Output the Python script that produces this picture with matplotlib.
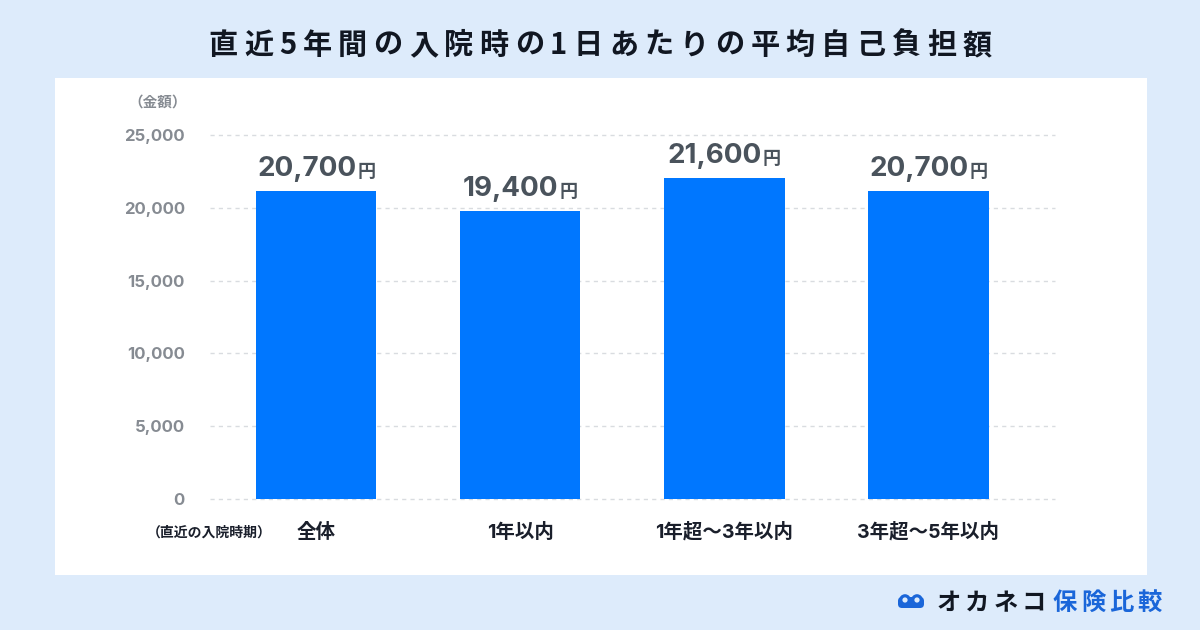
import matplotlib
matplotlib.use("Agg")
import matplotlib.pyplot as plt
from matplotlib.patches import FancyBboxPatch, Circle

plt.rcParams['font.family'] = ['Noto Sans CJK JP', 'DejaVu Sans']
MIX = ['Inter', 'Noto Sans CJK JP', 'DejaVu Sans']

title = "直近5年間の入院時の1日あたりの平均自己負担額"
categories = ["全体", "1年以内", "1年超〜3年以内", "3年超〜5年以内"]
bar_heights = [21150, 19750, 22050, 21150]
value_labels = ["20,700", "19,400", "21,600", "20,700"]
yticks = [0, 5000, 10000, 15000, 20000, 25000]
ytick_labels = ["0", "5,000", "10,000", "15,000", "20,000", "25,000"]

BG = "#DDEBFB"
BAR = "#0077FF"
W, H = 1200, 630

fig = plt.figure(figsize=(12, 6.3), dpi=100, facecolor=BG)

bax = fig.add_axes([0, 0, 1, 1], facecolor="none", zorder=0)
bax.set_xlim(0, W)
bax.set_ylim(H, 0)
bax.axis("off")
bax.add_patch(plt.Rectangle((55, 78), 1147 - 55, 575 - 78, facecolor="white", edgecolor="none"))

fig.canvas.draw()
r = fig.canvas.get_renderer()


def tracked(axh, text, x0, y, track, center=False, **kw):
    objs = []
    widths = []
    for ch in text:
        t = axh.text(0, y, ch, ha="left", va="center", **kw)
        objs.append(t)
        widths.append(t.get_window_extent(r).width)
    total = sum(widths) + track * (len(text) - 1)
    x = x0 - total / 2 if center else x0
    for t, w in zip(objs, widths):
        t.set_x(x)
        x += w + track
    return x


tracked(bax, title, 600, 45, 6.2, center=True, fontsize=21, fontweight="bold", color="#111722")

ax = fig.add_axes([210 / W, 1 - 499 / H, (1055 - 210) / W, (499 - 135) / H], zorder=2)
ax.set_facecolor("none")
x = list(range(len(categories)))
ax.bar(x, bar_heights, width=0.59, color=BAR, zorder=3)
ax.set_xlim(-0.52, 3.62)
ax.set_ylim(0, 25000)
ax.set_yticks(yticks)
ax.set_yticklabels(ytick_labels, fontsize=12, fontweight="bold", color="#868b92", family=MIX)
ax.tick_params(axis="y", length=0, pad=18)
ax.set_xticks([])
for s in ax.spines.values():
    s.set_visible(False)
for yv in yticks:
    ax.axhline(yv, color="#d9dce0", lw=1, ls=(0, (3, 3)), zorder=1, clip_on=False)

bax.text(128, 102, "（金額）", ha="left", va="center", fontsize=10.5, fontweight="bold", color="#868b92")
bax.text(209, 533, "（直近の入院時期）", ha="center", va="center", fontsize=10, fontweight="bold", color="#1a1f2b")

for xi, c in zip(x, categories):
    ax.annotate(c, (xi, 0), xycoords="data", xytext=(0, -33), textcoords="offset pixels",
                ha="center", va="center", fontsize=14, fontweight="bold", color="#1a1f2b", family=MIX)

fig.canvas.draw()
for xi, h, v in zip(x, bar_heights, value_labels):
    t1 = ax.annotate(v, (xi, h), xycoords="data", xytext=(0, 9), textcoords="offset pixels",
                     ha="left", va="bottom", fontsize=20, fontweight="bold", color="#4a535c",
                     family=MIX)
    t2 = ax.annotate("円", (xi, h), xycoords="data", xytext=(0, 10), textcoords="offset pixels",
                     ha="left", va="bottom", fontsize=13, fontweight="bold", color="#4a535c")
    w1 = t1.get_window_extent(r).width
    w2 = t2.get_window_extent(r).width
    tot = w1 + w2 + 1
    t1.xyann = (-tot / 2, 9)
    t2.xyann = (-tot / 2 + w1 + 1, 10)

# logo
bax.add_patch(FancyBboxPatch((898, 597), 26, 11, boxstyle="round,pad=0,rounding_size=4",
                             facecolor="#1a66d9", edgecolor="none"))
for cx in (905, 917):
    bax.add_patch(Circle((cx, 600), 5.8, facecolor="#1a66d9", edgecolor="none"))
    bax.add_patch(Circle((cx, 600), 2.6, facecolor=BG, edgecolor="none"))
tracked(bax, "オカネコ", 937, 603, 4, fontsize=17.5, fontweight="bold", color="#111722")
tracked(bax, "保険比較", 1053, 603, 4, fontsize=17.5, fontweight="bold", color="#1a66d9")

fig.savefig("out.png", dpi=100, facecolor=BG)
